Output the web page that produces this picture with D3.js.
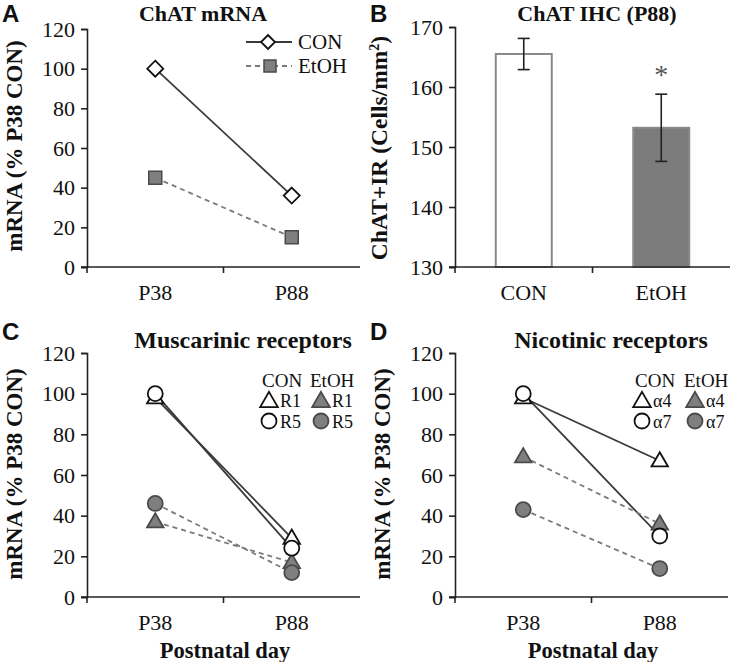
<!DOCTYPE html>
<html><head><meta charset="utf-8">
<script src="https://cdn.jsdelivr.net/npm/d3@7/dist/d3.min.js"></script>
<style>
body{margin:0;background:#fff;}
</style></head>
<body><svg id="c" width="736" height="662"></svg>
<script>
// ---- data ----
const days = ["P38", "P88"];
const chatCON = [100, 36];
const chatEtOH = [45, 15];
const ihcGroups = ["CON", "EtOH"];
const ihcMeans = [165.5, 153.2];
const ihcErr = [2.6, 5.6];
const muscR1CON = [98, 29];
const muscR5CON = [100, 24];
const muscR1EtOH = [37, 17];
const muscR5EtOH = [46, 12];
const nicA4CON = [98, 67];
const nicA7CON = [100, 30];
const nicA4EtOH = [69, 36];
const nicA7EtOH = [43, 14];
const pctTicks = [0, 20, 40, 60, 80, 100, 120];
const ihcTicks = [130, 140, 150, 160, 170];

const SERIF = "'Liberation Serif', 'Times New Roman', serif";
const SANS = "'Liberation Sans', Arial, sans-serif";
const svg = d3.select("#c");
const AX = "#222", CONLINE = "#3a3a3a", ETLINE = "#7a7a7a", GRAY = "#7f7f7f", GSTROKE = "#4a4a4a";

function txt(g, x, y, t, size, opts = {}) {
  return g.append("text").attr("x", x).attr("y", y).style("font-family", opts.sans ? SANS : SERIF)
    .style("font-size", size + "px").style("font-weight", opts.bold ? "bold" : "normal")
    .style("fill", opts.fill || "#111").attr("text-anchor", opts.anchor || "start").text(t);
}

function axes(g, x, y, ticks, cats) {
  const yAx = d3.axisLeft(y).tickValues(ticks).tickSize(6).tickPadding(6).tickFormat(d3.format("d"));
  const ga = g.append("g").attr("transform", `translate(${x.range()[0]},0)`).call(yAx);
  ga.select(".domain").attr("stroke", AX).attr("stroke-width", 1.6);
  ga.selectAll(".tick line").attr("stroke", AX).attr("stroke-width", 1.6);
  ga.selectAll("text").style("font-size", "22px").style("font-family", SERIF).style("fill", "#111");
  const y0 = y.range()[0];
  const [xa, xb] = x.range();
  g.append("line").attr("x1", xa - 6).attr("x2", xb).attr("y1", y0).attr("y2", y0).attr("stroke", AX).attr("stroke-width", 1.6);
  [xa, (xa + xb) / 2].forEach(t => g.append("line").attr("x1", t).attr("x2", t).attr("y1", y0).attr("y2", y0 + 6).attr("stroke", AX).attr("stroke-width", 1.6));
  cats.forEach(c => txt(g, x(c) + x.bandwidth() / 2, y0 + 33, c, 22, { anchor: "middle" }));
}
function title(x, y, t, size) { txt(svg, x, y, t, size, { bold: true, anchor: "middle" }); }
function letter(x, y, t) { txt(svg, x, y, t, 24, { bold: true, sans: true }); }
function ylabel(cx, cy, t, size) {
  return svg.append("text").attr("transform", `translate(${cx},${cy}) rotate(-90)`).attr("text-anchor", "middle")
    .style("font-family", SERIF).style("font-weight", "bold").style("font-size", size + "px").style("fill", "#111").text(t);
}
function marker(g, shape, cx, cy, filled, s) {
  const fill = filled ? GRAY : "#fff", stroke = filled ? GSTROKE : "#111";
  if (shape === "circle") {
    g.append("circle").attr("cx", cx).attr("cy", cy).attr("r", s).attr("fill", fill).attr("stroke", stroke).attr("stroke-width", 1.8);
  } else if (shape === "triangle") {
    const h = s * 1.9;
    g.append("path").attr("d", `M${cx},${cy - h * 0.6}L${cx + s * 1.1},${cy + h * 0.4}L${cx - s * 1.1},${cy + h * 0.4}Z`).attr("fill", fill).attr("stroke", stroke).attr("stroke-width", 1.8);
  } else if (shape === "diamond") {
    g.append("path").attr("d", `M${cx},${cy - s}L${cx + s},${cy}L${cx},${cy + s}L${cx - s},${cy}Z`).attr("fill", fill).attr("stroke", stroke).attr("stroke-width", 1.8);
  } else if (shape === "square") {
    g.append("rect").attr("x", cx - s).attr("y", cy - s).attr("width", 2 * s).attr("height", 2 * s).attr("fill", fill).attr("stroke", stroke).attr("stroke-width", 1.5);
  }
}
function series(g, x, y, vals, dashed) {
  const line = d3.line().x((d, i) => x(days[i]) + x.bandwidth() / 2).y(d => y(d));
  g.append("path").attr("d", line(vals)).attr("fill", "none").attr("stroke", dashed ? ETLINE : CONLINE).attr("stroke-width", 1.8).attr("stroke-dasharray", dashed ? "5,4" : null);
}
function points(g, x, y, vals, shape, filled, s) {
  vals.forEach((v, i) => marker(g, shape, x(days[i]) + x.bandwidth() / 2, y(v), filled, s));
}
function legend4(g, x0, x1, labels) {
  txt(g, x0 - 7, 387, "CON", 19);
  txt(g, x1 - 11, 387, "EtOH", 19);
  marker(g, "triangle", x0, 401, false, 8);
  txt(g, x0 + 11, 407, labels[0], 18);
  marker(g, "triangle", x1, 401, true, 8);
  txt(g, x1 + 11, 407, labels[0], 18);
  marker(g, "circle", x0, 421, false, 7.5);
  txt(g, x0 + 11, 428, labels[1], 18);
  marker(g, "circle", x1, 421, true, 7.5);
  txt(g, x1 + 11, 428, labels[1], 18);
}

// ---- Panel A ----
{
  const g = svg.append("g");
  const x = d3.scaleBand().domain(days).range([87, 360]);
  const y = d3.scaleLinear().domain([0, 120]).range([267, 29]);
  axes(g, x, y, pctTicks, days);
  series(g, x, y, chatCON, false);
  series(g, x, y, chatEtOH, true);
  points(g, x, y, chatCON, "diamond", false, 8);
  points(g, x, y, chatEtOH, "square", true, 6.5);
  title(203, 21, "ChAT mRNA", 22);
  letter(2, 22, "A");
  ylabel(22, 146, "mRNA (% P38 CON)", 23);
  g.append("line").attr("x1", 246).attr("x2", 292).attr("y1", 42).attr("y2", 42).attr("stroke", CONLINE).attr("stroke-width", 1.8);
  marker(g, "diamond", 268, 42, false, 7);
  txt(g, 298, 49, "CON", 21);
  g.append("line").attr("x1", 246).attr("x2", 292).attr("y1", 66).attr("y2", 66).attr("stroke", ETLINE).attr("stroke-width", 1.8).attr("stroke-dasharray", "5,4");
  marker(g, "square", 270, 66, true, 6);
  txt(g, 298, 73, "EtOH", 21);
}

// ---- Panel B ----
{
  const g = svg.append("g");
  const xb = d3.scaleBand().domain(ihcGroups).range([455, 730]);
  const y = d3.scaleLinear().domain([130, 170]).range([267, 27]);
  g.selectAll("rect.bar").data(ihcMeans).join("rect")
    .attr("x", (d, i) => xb(ihcGroups[i]) + xb.bandwidth() / 2 - 28)
    .attr("width", 56)
    .attr("y", d => y(d)).attr("height", d => y(130) - y(d))
    .attr("fill", (d, i) => i ? "#7b7b7b" : "#fff").attr("stroke", "#8a8a8a").attr("stroke-width", 2);
  ihcMeans.forEach((m, i) => {
    const cx = xb(ihcGroups[i]) + xb.bandwidth() / 2;
    g.append("line").attr("x1", cx).attr("x2", cx).attr("y1", y(m + ihcErr[i])).attr("y2", y(m - ihcErr[i])).attr("stroke", "#222").attr("stroke-width", 1.6);
    [m + ihcErr[i], m - ihcErr[i]].forEach(v => g.append("line").attr("x1", cx - 6).attr("x2", cx + 6).attr("y1", y(v)).attr("y2", y(v)).attr("stroke", "#222").attr("stroke-width", 1.6));
  });
  axes(g, xb, y, ihcTicks, ihcGroups);
  txt(g, xb("EtOH") + xb.bandwidth() / 2, 84, "*", 28, { anchor: "middle", fill: "#555" });
  title(597, 21, "ChAT IHC (P88)", 22);
  letter(370, 22, "B");
  const t = ylabel(387, 148, "", 23.5);
  t.append("tspan").text("ChAT+IR (Cells/mm");
  t.append("tspan").attr("dy", -8).style("font-size", "14px").text("2");
  t.append("tspan").attr("dy", 8).text(")");
}

// ---- Panel C ----
{
  const g = svg.append("g");
  const x = d3.scaleBand().domain(days).range([87, 360]);
  const y = d3.scaleLinear().domain([0, 120]).range([597, 353]);
  axes(g, x, y, pctTicks, days);
  series(g, x, y, muscR1CON, false);
  series(g, x, y, muscR5CON, false);
  series(g, x, y, muscR1EtOH, true);
  series(g, x, y, muscR5EtOH, true);
  points(g, x, y, muscR1CON, "triangle", false, 7.5);
  points(g, x, y, muscR1EtOH, "triangle", true, 7.5);
  points(g, x, y, muscR5CON, "circle", false, 7.5);
  points(g, x, y, muscR5EtOH, "circle", true, 7.5);
  title(243, 348, "Muscarinic receptors", 24);
  letter(2, 340, "C");
  ylabel(22, 474, "mRNA (% P38 CON)", 23);
  txt(svg, 225, 658, "Postnatal day", 22.5, { bold: true, anchor: "middle" });
  legend4(g, 269, 321, ["R1", "R5"]);
}

// ---- Panel D ----
{
  const g = svg.append("g");
  const x = d3.scaleBand().domain(days).range([455, 728]);
  const y = d3.scaleLinear().domain([0, 120]).range([597, 353]);
  axes(g, x, y, pctTicks, days);
  series(g, x, y, nicA4CON, false);
  series(g, x, y, nicA7CON, false);
  series(g, x, y, nicA4EtOH, true);
  series(g, x, y, nicA7EtOH, true);
  points(g, x, y, nicA4CON, "triangle", false, 7.5);
  points(g, x, y, nicA4EtOH, "triangle", true, 7.5);
  points(g, x, y, nicA7CON, "circle", false, 7.5);
  points(g, x, y, nicA7EtOH, "circle", true, 7.5);
  title(611, 348, "Nicotinic receptors", 24);
  letter(370, 340, "D");
  ylabel(390, 474, "mRNA (% P38 CON)", 23);
  txt(svg, 593, 658, "Postnatal day", 22.5, { bold: true, anchor: "middle" });
  legend4(g, 642, 695, ["α4", "α7"]);
}
</script></body></html>
